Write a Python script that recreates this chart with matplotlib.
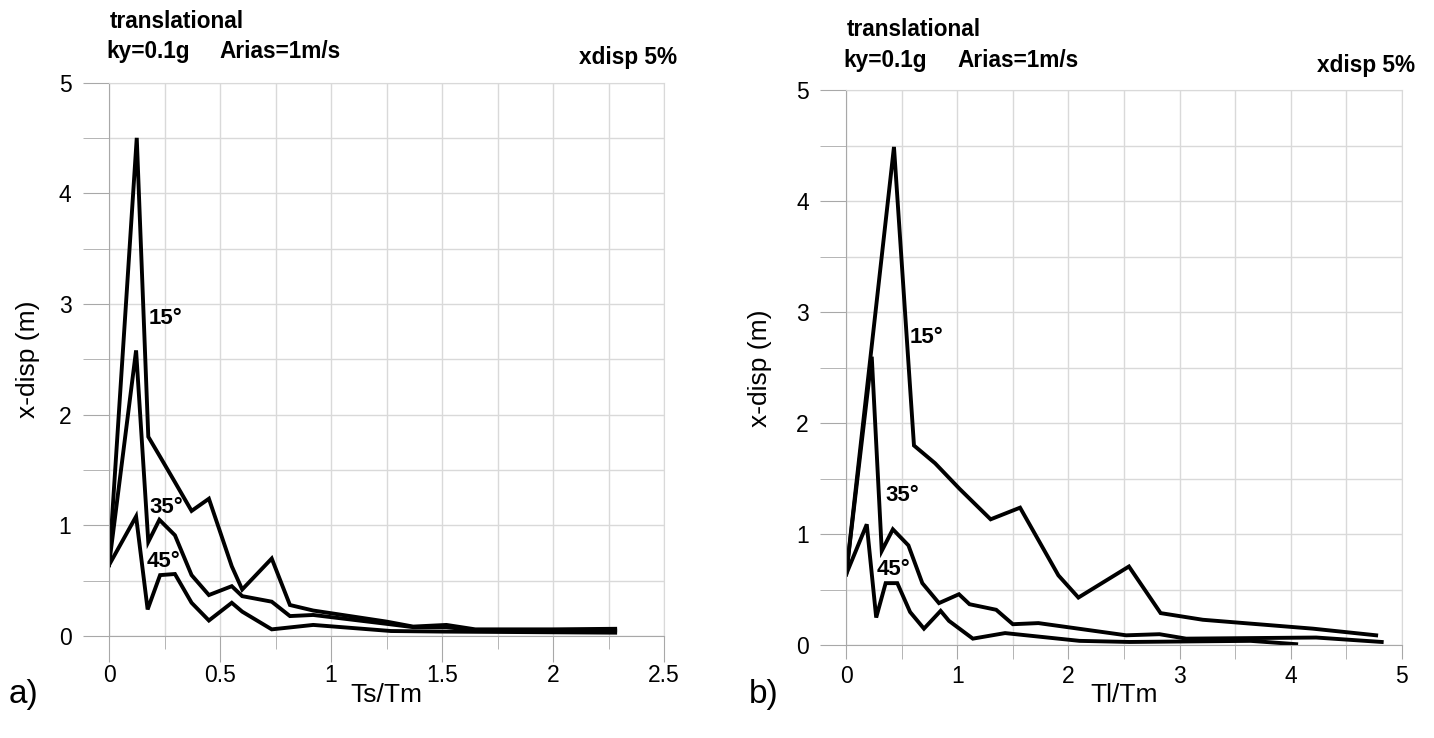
import matplotlib.pyplot as plt
from matplotlib.ticker import MultipleLocator, FormatStrFormatter

plt.rcParams['font.family'] = ['Liberation Sans', 'DejaVu Sans']

# panel a) : x-disp vs Ts/Tm
x15_a = [0, 0.125, 0.177, 0.23, 0.297, 0.372, 0.45, 0.553, 0.6, 0.733, 0.815, 0.92, 1.25, 1.37, 1.52, 1.65, 2.0, 2.28]
y15_a = [0.64, 4.5, 1.8, 1.62, 1.39, 1.13, 1.24, 0.63, 0.42, 0.70, 0.28, 0.23, 0.13, 0.085, 0.10, 0.06, 0.06, 0.065]
x35_a = [0, 0.122, 0.177, 0.227, 0.297, 0.372, 0.45, 0.553, 0.6, 0.733, 0.815, 0.92, 1.25, 1.37, 1.52, 1.65, 2.28]
y35_a = [0.64, 2.58, 0.85, 1.05, 0.91, 0.55, 0.37, 0.45, 0.36, 0.31, 0.18, 0.19, 0.11, 0.08, 0.08, 0.05, 0.05]
x45_a = [0, 0.122, 0.174, 0.23, 0.297, 0.372, 0.45, 0.553, 0.6, 0.733, 0.92, 1.27, 1.5, 2.28]
y45_a = [0.64, 1.08, 0.24, 0.55, 0.56, 0.30, 0.14, 0.30, 0.22, 0.06, 0.10, 0.045, 0.04, 0.03]

# panel b) : x-disp vs Tl/Tm
x15_b = [0, 0.43, 0.61, 0.8, 1.02, 1.30, 1.565, 1.91, 2.09, 2.545, 2.83, 3.21, 4.2, 4.77]
y15_b = [0.64, 4.49, 1.80, 1.64, 1.41, 1.135, 1.24, 0.63, 0.43, 0.71, 0.29, 0.23, 0.15, 0.09]
x35_b = [0, 0.23, 0.32, 0.42, 0.56, 0.685, 0.835, 1.015, 1.11, 1.35, 1.50, 1.73, 2.52, 2.82, 3.06, 4.23, 4.82]
y35_b = [0.64, 2.6, 0.85, 1.045, 0.90, 0.56, 0.38, 0.46, 0.37, 0.32, 0.19, 0.20, 0.09, 0.10, 0.06, 0.07, 0.03]
x45_b = [0, 0.185, 0.27, 0.355, 0.46, 0.575, 0.70, 0.85, 0.925, 1.14, 1.43, 2.10, 2.55, 3.64, 4.05]
y45_b = [0.64, 1.09, 0.25, 0.56, 0.56, 0.30, 0.15, 0.31, 0.22, 0.06, 0.11, 0.04, 0.03, 0.04, 0.01]

W, H = 1434, 738


def px(x, y):
    return x / W, 1 - y / H


fig = plt.figure(figsize=(W / 100, H / 100), dpi=100)
ax_a = fig.add_axes([109 / W, 102 / H, 555 / W, 553.5 / H])
ax_b = fig.add_axes([846.2 / W, 92.7 / H, 555.5 / W, 555 / H])

grid_c = '#d9d9d9'
axis_c = '#a8a8a8'

panels = [
    (ax_a, [(x15_a, y15_a), (x35_a, y35_a), (x45_a, y45_a)], 2.5, 0.5, 0.25, 'Ts/Tm',
     [(0.18, 2.87, '15°'), (0.18, 1.16, '35°'), (0.17, 0.67, '45°')]),
    (ax_b, [(x15_b, y15_b), (x35_b, y35_b), (x45_b, y45_b)], 5, 1, 0.5, 'Tl/Tm',
     [(0.568, 2.77, '15°'), (0.35, 1.35, '35°'), (0.27, 0.685, '45°')]),
]

for ax, curves, xmax, xmaj, xmin_, xlab, notes in panels:
    for xs, ys in curves:
        ax.plot(xs, ys, color='black', lw=2.8, solid_joinstyle='miter')
    ax.set_xlim(0, xmax)
    ax.set_ylim(0, 5)
    ax.xaxis.set_major_locator(MultipleLocator(xmaj))
    ax.xaxis.set_minor_locator(MultipleLocator(xmin_))
    ax.xaxis.set_major_formatter(FormatStrFormatter('%g'))
    ax.yaxis.set_major_locator(MultipleLocator(1))
    ax.yaxis.set_minor_locator(MultipleLocator(0.5))
    ax.grid(True, which='both', color=grid_c, lw=1)
    ax.set_axisbelow(True)
    for side in ['top', 'right']:
        ax.spines[side].set_color(grid_c)
    for side in ['left', 'bottom']:
        ax.spines[side].set_color(axis_c)
    ax.tick_params(axis='both', which='both', colors=axis_c, labelcolor='black', labelsize=16.5)
    ax.tick_params(axis='y', which='both', length=19, pad=8)
    for xs_txt in notes:
        ax.text(xs_txt[0], xs_txt[1], xs_txt[2], fontsize=16, fontweight='bold', ha='left', va='center')
    ax.set_xlabel(xlab, fontsize=19, va='center')
    ax.set_ylabel('x-disp (m)', fontsize=19)

ax_a.tick_params(axis='x', which='major', length=19, pad=1)
ax_a.tick_params(axis='x', which='minor', length=9)
ax_b.tick_params(axis='x', which='both', length=10, pad=4)
ax_a.xaxis.set_label_coords(0.5, -0.106)
ax_b.xaxis.set_label_coords(0.5, -0.09)
ax_a.yaxis.set_label_coords(-0.124, 0.5)
ax_b.yaxis.set_label_coords(-0.133, 0.5)

hdr = dict(fontsize=16.3, fontweight='bold', va='baseline')
fig.text(*px(110, 28), 'translational', **hdr)
fig.text(*px(106, 58), 'ky=0.1g', **hdr)
fig.text(*px(219, 58), 'Arias=1m/s', **hdr)
fig.text(*px(677, 64), 'xdisp 5%', ha='right', **hdr)
fig.text(*px(847, 36), 'translational', **hdr)
fig.text(*px(843, 67), 'ky=0.1g', **hdr)
fig.text(*px(957, 67), 'Arias=1m/s', **hdr)
fig.text(*px(1415, 72), 'xdisp 5%', ha='right', **hdr)

fig.text(*px(9, 703), 'a)', fontsize=24, va='baseline')
fig.text(*px(749, 703), 'b)', fontsize=24, va='baseline')

fig.savefig('out.png', dpi=100)
